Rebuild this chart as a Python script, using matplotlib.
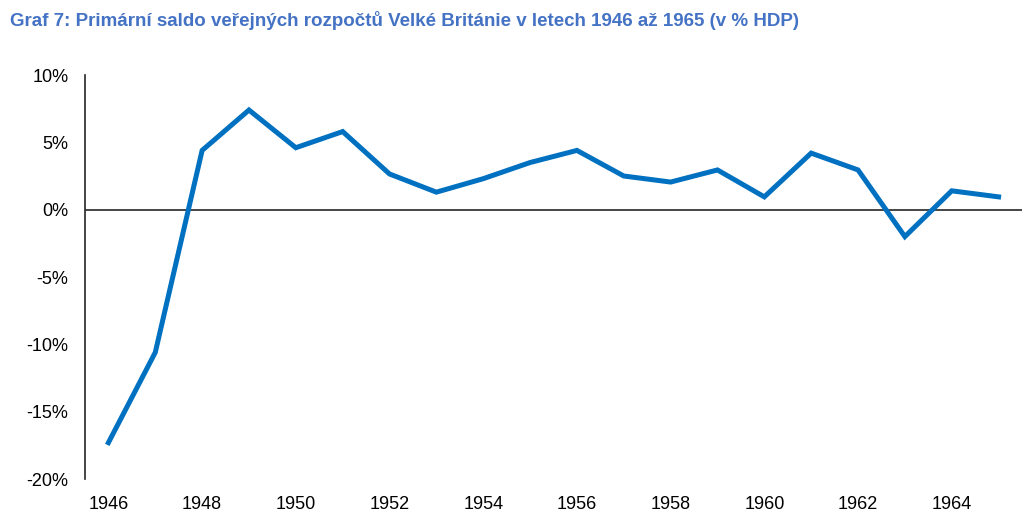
import numpy as np
import matplotlib.pyplot as plt
from matplotlib.ticker import FuncFormatter

plt.rcParams['font.family'] = ['Liberation Sans', 'DejaVu Sans']

# primary balance of UK public budgets, % of GDP
years = list(range(1946, 1966))
saldo = [-17.3, -10.6, 4.4, 7.4, 4.6, 5.8, 2.65, 1.3, 2.3, 3.5,
         4.4, 2.5, 2.05, 2.95, 0.95, 4.2, 2.95, -2.0, 1.4, 0.95]
xticks = list(range(1946, 1965, 2))
yticks = [-20, -15, -10, -5, 0, 5, 10]

fig = plt.figure(figsize=(10.32, 5.25), dpi=100)
ax = fig.add_axes([85/1032, 1-479/525, (1022-85)/1032, (479-75)/525])

ax.plot(years, saldo, color='#0070C0', lw=3.6, solid_joinstyle='miter')
ax.axhline(0, color='#262626', lw=1.2, zorder=1)

ax.set_xlim(1945.5, 1965.5)
ax.set_ylim(-20, 10)
ax.set_xticks(xticks)
ax.set_yticks(yticks)
ax.yaxis.set_major_formatter(FuncFormatter(lambda v, p: f'{v:.0f}%'))
ax.tick_params(length=0, labelsize=13)
ax.tick_params(axis='y', pad=12)
ax.tick_params(axis='x', pad=12)

for s in ['top', 'right', 'bottom']:
    ax.spines[s].set_visible(False)
ax.spines['left'].set_color('#262626')
ax.spines['left'].set_linewidth(1.2)

fig.text(10/1032, 1-20/525, 'Graf 7: Primární saldo veřejných rozpočtů Velké Británie v letech 1946 až 1965 (v % HDP)',
         color='#4472C4', fontsize=13.5, fontweight='bold', va='center', ha='left')

fig.savefig('out.png', dpi=100)
